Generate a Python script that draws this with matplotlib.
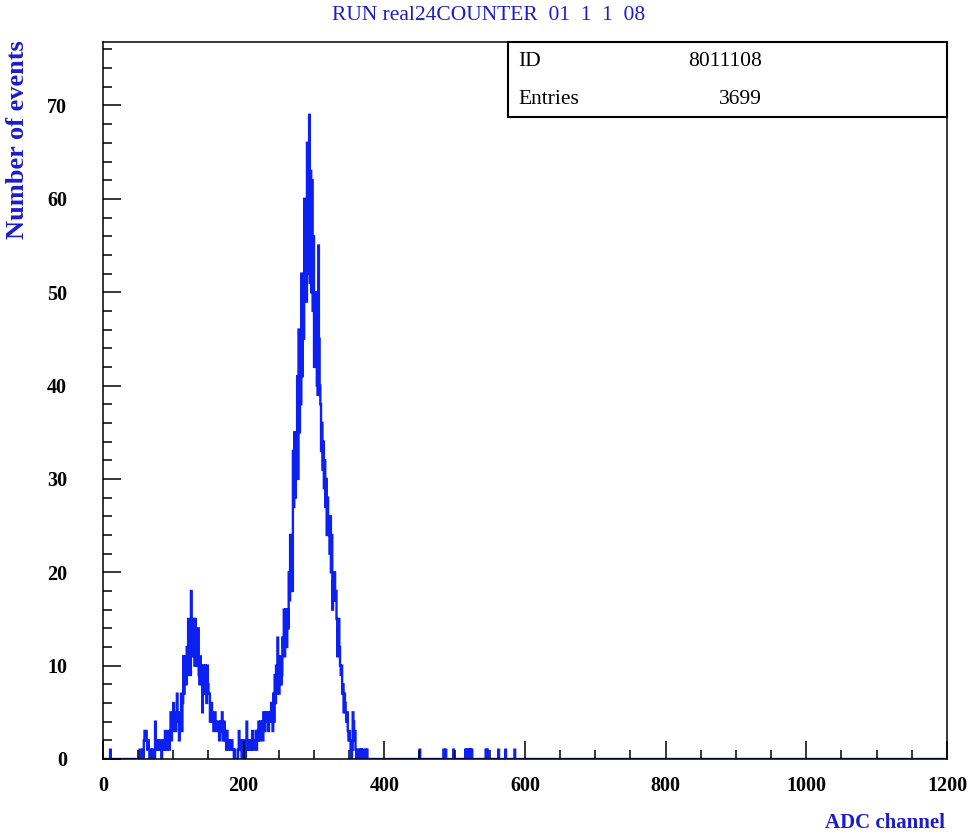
import numpy as np
import matplotlib
matplotlib.use("Agg")
import matplotlib.pyplot as plt
from matplotlib.patches import Rectangle
from matplotlib.ticker import MultipleLocator

# ADC spectrum, counts per channel (1200 channels, bin width 1)
n_channels = 1200
first_channel = 50
counts_from_50 = [
    0, 0, 1, 0, 0, 0, 1, 0, 2, 3,            # 50-59
    2, 3, 2, 1, 2, 1, 0, 1, 1, 0,            # 60-69
    1, 1, 1, 0, 4, 1, 2, 1, 2, 1,            # 70-79
    1, 2, 1, 0, 1, 2, 1, 1, 3, 1,            # 80-89
    2, 1, 3, 2, 1, 3, 5, 2, 4, 3,            # 90-99
    6, 4, 5, 3, 5, 7, 4, 5, 2, 5,            # 100-109
    4, 7, 3, 6, 11, 7, 11, 9, 8, 12,         # 110-119
    9, 15, 10, 12, 9, 18, 13, 12, 11, 15,    # 120-129
    10, 15, 11, 10, 11, 14, 9, 8, 11, 9,     # 130-139
    10, 5, 9, 10, 7, 10, 9, 6, 10, 8,        # 140-149
    7, 7, 4, 6, 6, 5, 4, 3, 4, 5,            # 150-159
    4, 3, 3, 4, 4, 2, 3, 4, 3, 5,            # 160-169
    2, 3, 4, 2, 3, 1, 3, 2, 1, 2,            # 170-179
    2, 1, 1, 2, 1, 1, 0, 1, 0, 0,            # 180-189
    0, 0, 1, 3, 1, 2, 1, 0, 2, 1,            # 190-199
    2, 1, 0, 1, 4, 2, 1, 2, 1, 2,            # 200-209
    2, 1, 3, 2, 1, 2, 2, 3, 1, 3,            # 210-219
    2, 4, 3, 2, 4, 3, 4, 2, 5, 4,            # 220-229
    3, 5, 4, 5, 5, 3, 5, 4, 5, 6,            # 230-239
    5, 3, 7, 4, 9, 6, 10, 7, 13, 8,          # 240-249
    7, 8, 11, 8, 9, 13, 12, 16, 11, 16,      # 250-259
    15, 12, 16, 14, 20, 17, 24, 19, 22, 18,  # 260-269
    33, 27, 35, 28, 34, 33, 41, 30, 46, 35,  # 270-279
    45, 38, 52, 41, 47, 45, 60, 50, 55, 49,  # 280-289
    66, 52, 59, 69, 51, 63, 50, 62, 48, 56,  # 290-299
    42, 45, 50, 44, 40, 39, 55, 45, 40, 38,  # 300-309
    33, 36, 31, 34, 29, 32, 27, 30, 24, 28,  # 310-319
    24, 25, 22, 26, 20, 24, 16, 19, 17, 20,  # 320-329
    17, 18, 15, 11, 14, 15, 12, 10, 9, 10,   # 330-339
    7, 8, 5, 7, 6, 5, 4, 5, 3, 2,            # 340-349
    3, 2, 1, 0, 1, 5, 4, 2, 3, 1,            # 350-359
    0, 1, 1, 0, 0, 1, 0, 1, 0, 1,            # 360-369
    0, 0, 0, 1, 0, 1,                        # 370-375
]
# isolated single hits outside the main spectrum
single_hits = [10, 450, 484, 487, 498, 515, 517, 518, 520, 522, 524,
               544, 546, 562, 572, 585]

hist_id = "8011108"
title = "RUN real24COUNTER  01  1  1  08"

hist = np.zeros(n_channels)
hist[first_channel:first_channel + len(counts_from_50)] = counts_from_50
for ch in single_hits:
    hist[ch] += 1
edges = np.arange(n_channels + 1)
entries = int(hist.sum())

W, H = 978, 835
blue_line = "#0c20f2"
blue_text = "#1c1ccc"
serif = "Liberation Serif"


def fx(px):
    return px / W


def fy(py):
    return 1 - py / H


fig = plt.figure(figsize=(W / 100, H / 100), dpi=100)
ax = fig.add_axes([fx(103), fy(759), (947 - 103) / W, (759 - 42) / H])

ax.stairs(hist, edges, color=blue_line, lw=1.7, zorder=1)

ax.set_xlim(0, 1200)
ax.set_ylim(0, 76.8)
ax.set_xticks(range(0, 1201, 200))
ax.set_yticks(range(0, 71, 10))
ax.xaxis.set_minor_locator(MultipleLocator(50))
ax.yaxis.set_minor_locator(MultipleLocator(2))
ax.tick_params(which="both", direction="in", width=1.1, color="black")
ax.tick_params(which="major", length=13)
ax.tick_params(which="minor", length=6.5)
ax.tick_params(axis="x", pad=12)
ax.tick_params(axis="y", pad=26)
for lbl in ax.get_xticklabels() + ax.get_yticklabels():
    lbl.set_fontfamily(serif)
    lbl.set_fontweight("bold")
    lbl.set_fontsize(14.5)
for sp in ax.spines.values():
    sp.set_linewidth(1.1)

# statistics box in the top right corner
x0 = (508 - 103) / 844
y0 = (759 - 117) / 717
ax.add_patch(Rectangle((x0, y0), 1 - x0, 1 - y0, transform=ax.transAxes,
                       fill=False, lw=1.5, ec="black", clip_on=False, zorder=5))
fig.text(fx(518), fy(62), "ID", fontsize=15.5, family=serif, ha="left", va="center")
fig.text(fx(762), fy(62), hist_id, fontsize=15.5, family=serif, ha="right", va="center")
fig.text(fx(518), fy(100), "Entries", fontsize=15.5, family=serif, ha="left", va="center")
fig.text(fx(762), fy(100), str(entries), fontsize=15.5, family=serif, ha="right", va="center")

fig.text(fx(489), fy(15), title, fontsize=15.5, family=serif, color=blue_text,
         ha="center", va="center")
fig.text(fx(18), fy(40), "Number of events", fontsize=19, family=serif,
         fontweight="bold", color=blue_text, rotation=90, ha="center", va="top")
fig.text(fx(945), fy(823), "ADC channel", fontsize=15, family=serif,
         fontweight="bold", color=blue_text, ha="right", va="center")

fig.savefig("out.png", dpi=100, facecolor="white")
